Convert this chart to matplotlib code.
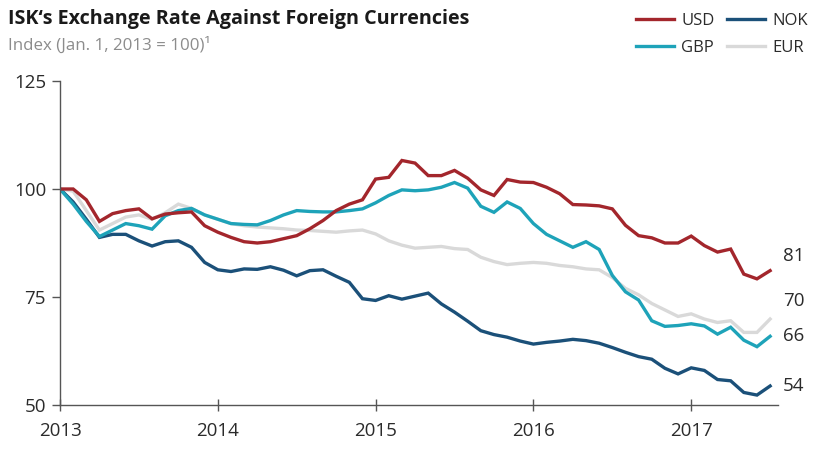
import matplotlib
matplotlib.use("Agg")
import matplotlib.pyplot as plt
import numpy as np

plt.rcParams['font.family'] = ['Open Sans', 'DejaVu Sans']

# Monthly index values, Jan 2013 .. Jul 2017 (Jan 1, 2013 = 100)
start_year = 2013
usd = [100, 100, 97.5, 92.5, 94.3, 95, 95.4, 93.1, 94.2, 94.5, 94.7, 91.5,
       90, 88.8, 87.8, 87.5, 87.8, 88.5, 89.2, 90.8, 92.7, 95, 96.5, 97.5,
       102.3, 102.7, 106.6, 106, 103.1, 103.1, 104.3, 102.5, 99.8, 98.5, 102.2, 101.6,
       101.5, 100.4, 98.9, 96.4, 96.3, 96.1, 95.4, 91.6, 89.2, 88.7, 87.5, 87.5,
       89.1, 86.9, 85.4, 86.1, 80.3, 79.2, 81.1]
gbp = [100, 96.5, 92.5, 89, 90.5, 92, 91.5, 90.7, 93.8, 95, 95.5, 94,
       93, 92, 91.8, 91.7, 92.7, 94, 95, 94.8, 94.7, 94.7, 95, 95.4,
       96.8, 98.5, 99.8, 99.6, 99.8, 100.4, 101.5, 100.2, 96, 94.6, 97, 95.5,
       92, 89.5, 88, 86.5, 87.8, 86, 80, 76.2, 74.3, 69.5, 68.2, 68.4,
       68.8, 68.3, 66.4, 68, 65, 63.5, 65.9]
nok = [100, 97, 93, 88.8, 89.5, 89.5, 88, 86.8, 87.8, 88, 86.5, 83,
       81.3, 80.9, 81.5, 81.4, 82, 81.2, 79.9, 81.1, 81.3, 79.8, 78.4, 74.6,
       74.2, 75.3, 74.5, 75.2, 75.9, 73.4, 71.5, 69.4, 67.2, 66.3, 65.7, 64.8,
       64.1, 64.5, 64.8, 65.2, 64.9, 64.3, 63.3, 62.2, 61.2, 60.6, 58.5, 57.2,
       58.6, 58, 55.9, 55.6, 52.9, 52.3, 54.4]
eur = [100, 99.5, 95, 90.5, 92, 93.5, 94, 93, 94.5, 96.5, 95.5, 94,
       93, 92, 91.5, 91.2, 91, 90.8, 90.5, 90.4, 90.2, 90, 90.3, 90.5,
       89.6, 88, 87, 86.3, 86.5, 86.7, 86.2, 86, 84.2, 83.2, 82.5, 82.8,
       83, 82.8, 82.3, 82, 81.5, 81.3, 79.5, 77, 75.5, 73.5, 72, 70.5,
       71.1, 69.9, 69.1, 69.5, 66.8, 66.8, 69.9]
year_ticks = [2013, 2014, 2015, 2016, 2017]
value_ticks = [50, 75, 100, 125]

x = start_year + np.arange(len(usd)) / 12.0

c_usd = '#a3262c'
c_gbp = '#1ea3b9'
c_nok = '#1b5079'
c_eur = '#d9d9d9'
c_text = '#2b2b2b'
c_axis = '#555555'

fig = plt.figure(figsize=(8.2, 4.49), dpi=100)
ax = fig.add_axes([60 / 820, 44 / 449, (778 - 60) / 820, (405 - 81) / 449])

series = [('EUR', eur, c_eur), ('NOK', nok, c_nok), ('GBP', gbp, c_gbp), ('USD', usd, c_usd)]
lines = {}
for name, vals, col in series:
    ln, = ax.plot(x, vals, color=col, lw=2.4, solid_joinstyle='miter', label=name)
    lines[name] = ln

ax.set_xlim(2013, 2017.55)
ax.set_ylim(50, 125)
ax.set_xticks(year_ticks)
ax.set_xticklabels([str(y) for y in year_ticks])
ax.set_yticks(value_ticks)
for s in ['top', 'right']:
    ax.spines[s].set_visible(False)
for s in ['left', 'bottom']:
    ax.spines[s].set_color(c_axis)
    ax.spines[s].set_linewidth(1.0)
ax.tick_params(axis='y', direction='out', length=6, width=1, color=c_axis,
               labelsize=13.5, labelcolor=c_text, pad=4)
ax.tick_params(axis='x', direction='inout', length=8, width=1, color=c_axis,
               labelsize=13.5, labelcolor=c_text, pad=8)

# end-of-series value labels
end_offsets = {'USD': 15, 'EUR': 18, 'GBP': 0, 'NOK': 0}
for name, vals, col in series:
    ax.annotate(f"{round(vals[-1]):d}", xy=(x[-1], vals[-1]), xytext=(13, end_offsets[name]),
                textcoords='offset pixels', va='center', ha='left', fontsize=13.5,
                color=c_text, annotation_clip=False)

fig.text(8 / 820, 1 - 19 / 449, "ISK\u2018s Exchange Rate Against Foreign Currencies",
         fontsize=14.2, fontweight='bold', color='#1a1a1a', va='center', ha='left')
fig.text(8 / 820, 1 - 45 / 449, "Index (Jan. 1, 2013 = 100)\u00b9",
         fontsize=12.2, color='#8c8c8c', va='center', ha='left')

leg = fig.legend([lines['USD'], lines['GBP'], lines['NOK'], lines['EUR']],
                 ['USD', 'GBP', 'NOK', 'EUR'], ncol=2, loc='upper right',
                 bbox_to_anchor=(818 / 820, 1 - 3 / 449), frameon=False,
                 fontsize=12, handlelength=2.3, handletextpad=0.42,
                 columnspacing=0.75, labelspacing=0.65, borderaxespad=0.2)
for t in leg.get_texts():
    t.set_color(c_text)

fig.savefig('out.png', dpi=100)
